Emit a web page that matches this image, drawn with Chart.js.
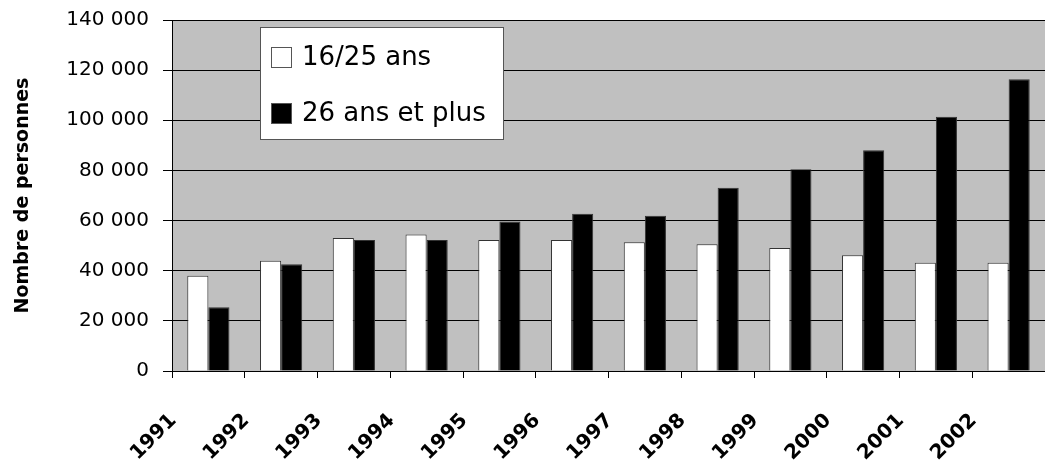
<!DOCTYPE html>
<html>
<head>
<meta charset="utf-8">
<script src="https://cdn.jsdelivr.net/npm/chart.js@4/dist/chart.umd.min.js"></script>
<style>
  html, body { margin: 0; padding: 0; background: #fff; }
  #wrap { width: 1045px; height: 471px; }
</style>
</head>
<body>
<div id="wrap"><canvas id="barChart"></canvas></div>
<script>
const years = ["1991", "1992", "1993", "1994", "1995", "1996", "1997", "1998", "1999", "2000", "2001", "2002"];
const jeunes = [38000, 44000, 53000, 54400, 52300, 52300, 51400, 50600, 49100, 46200, 43200, 43200];
const adultes = [25400, 42600, 52300, 52300, 59600, 62700, 61900, 73100, 80500, 88000, 101400, 116400];
const yTicks = [0, 20000, 40000, 60000, 80000, 100000, 120000, 140000];

const fontMain = "'DejaVu Sans', Verdana, sans-serif";

// grey plot background + thin grey frame on top
const plotBg = {
  id: "plotBg",
  beforeDraw(chart) {
    const { ctx, chartArea: a } = chart;
    ctx.save();
    ctx.fillStyle = "#c0c0c0";
    ctx.fillRect(a.left, a.top, a.right - a.left, a.bottom - a.top);
    ctx.strokeStyle = "#808080";
    ctx.lineWidth = 1;
    ctx.beginPath();
    ctx.moveTo(a.left, a.top + 0.5);
    ctx.lineTo(a.right, a.top + 0.5);
    ctx.stroke();
    ctx.restore();
  },
};

// legend box drawn inside the plot, like the original
const boxLegend = {
  id: "boxLegend",
  afterDraw(chart) {
    const { ctx, chartArea: a } = chart;
    const x = a.left + 88, y = a.top + 7, w = 243, h = 112;
    ctx.save();
    ctx.fillStyle = "#fff";
    ctx.fillRect(x, y, w, h);
    ctx.strokeStyle = "#555";
    ctx.lineWidth = 1;
    ctx.strokeRect(x + 0.5, y + 0.5, w, h);
    ctx.font = "26px " + fontMain;
    ctx.textBaseline = "middle";
    chart.data.datasets.forEach((ds, i) => {
      const cy = y + 30 + i * 56;
      ctx.fillStyle = ds.backgroundColor;
      ctx.fillRect(x + 11, cy - 10, 21, 21);
      ctx.strokeStyle = "#555";
      ctx.strokeRect(x + 11.5, cy - 9.5, 20, 20);
      ctx.fillStyle = "#000";
      ctx.fillText(ds.label, x + 42, cy + 1);
    });
    ctx.restore();
  },
};

const ctx = document.getElementById("barChart").getContext("2d");
new Chart(ctx, {
  type: "bar",
  data: {
    labels: years,
    datasets: [
      {
        label: "16/25 ans",
        data: jeunes,
        backgroundColor: "#ffffff",
        borderColor: "#333",
        borderWidth: 1,
        categoryPercentage: 0.58,
        barPercentage: 1,
      },
      {
        label: "26 ans et plus",
        data: adultes,
        backgroundColor: "#000000",
        borderColor: "#333",
        borderWidth: 1,
        categoryPercentage: 0.58,
        barPercentage: 1,
      },
    ],
  },
  options: {
    responsive: true,
    maintainAspectRatio: false,
    animation: false,
    layout: { padding: { top: 20, right: 0, left: 0, bottom: 0 } },
    plugins: {
      legend: { display: false },
      tooltip: { enabled: false },
    },
    scales: {
      x: {
        offset: true,
        grid: {
          offset: true,
          drawOnChartArea: false,
          drawTicks: true,
          tickLength: 7,
          color: "#000",
        },
        border: { color: "#000" },
        ticks: {
          color: "#000",
          minRotation: 45,
          maxRotation: 45,
          padding: 31,
          labelOffset: -35,
          font: { family: fontMain, size: 20, weight: "bold" },
        },
        afterFit(s) {
          s.height = 100;
          s.paddingLeft = 0;
          s.paddingRight = 0;
        },
      },
      y: {
        min: 0,
        max: 140000,
        afterBuildTicks(s) { s.ticks = yTicks.map((v) => ({ value: v })); },
        grid: { color: "#000", lineWidth: 1, tickLength: 9 },
        border: { color: "#000" },
        ticks: {
          color: "#000",
          padding: 14,
          font: { family: fontMain, size: 20 },
          callback: (v) => String(v).replace(/\B(?=(\d{3})+(?!\d))/g, " "),
        },
        title: {
          display: true,
          text: "Nombre de personnes",
          color: "#000",
          padding: { top: 12, bottom: 0 },
          font: { family: fontMain, size: 19, weight: "bold" },
        },
        afterFit(s) {
          s.width = 172;
          s.paddingTop = 0;
          s.paddingBottom = 0;
        },
      },
    },
  },
  plugins: [plotBg, boxLegend],
});
</script>
</body>
</html>
